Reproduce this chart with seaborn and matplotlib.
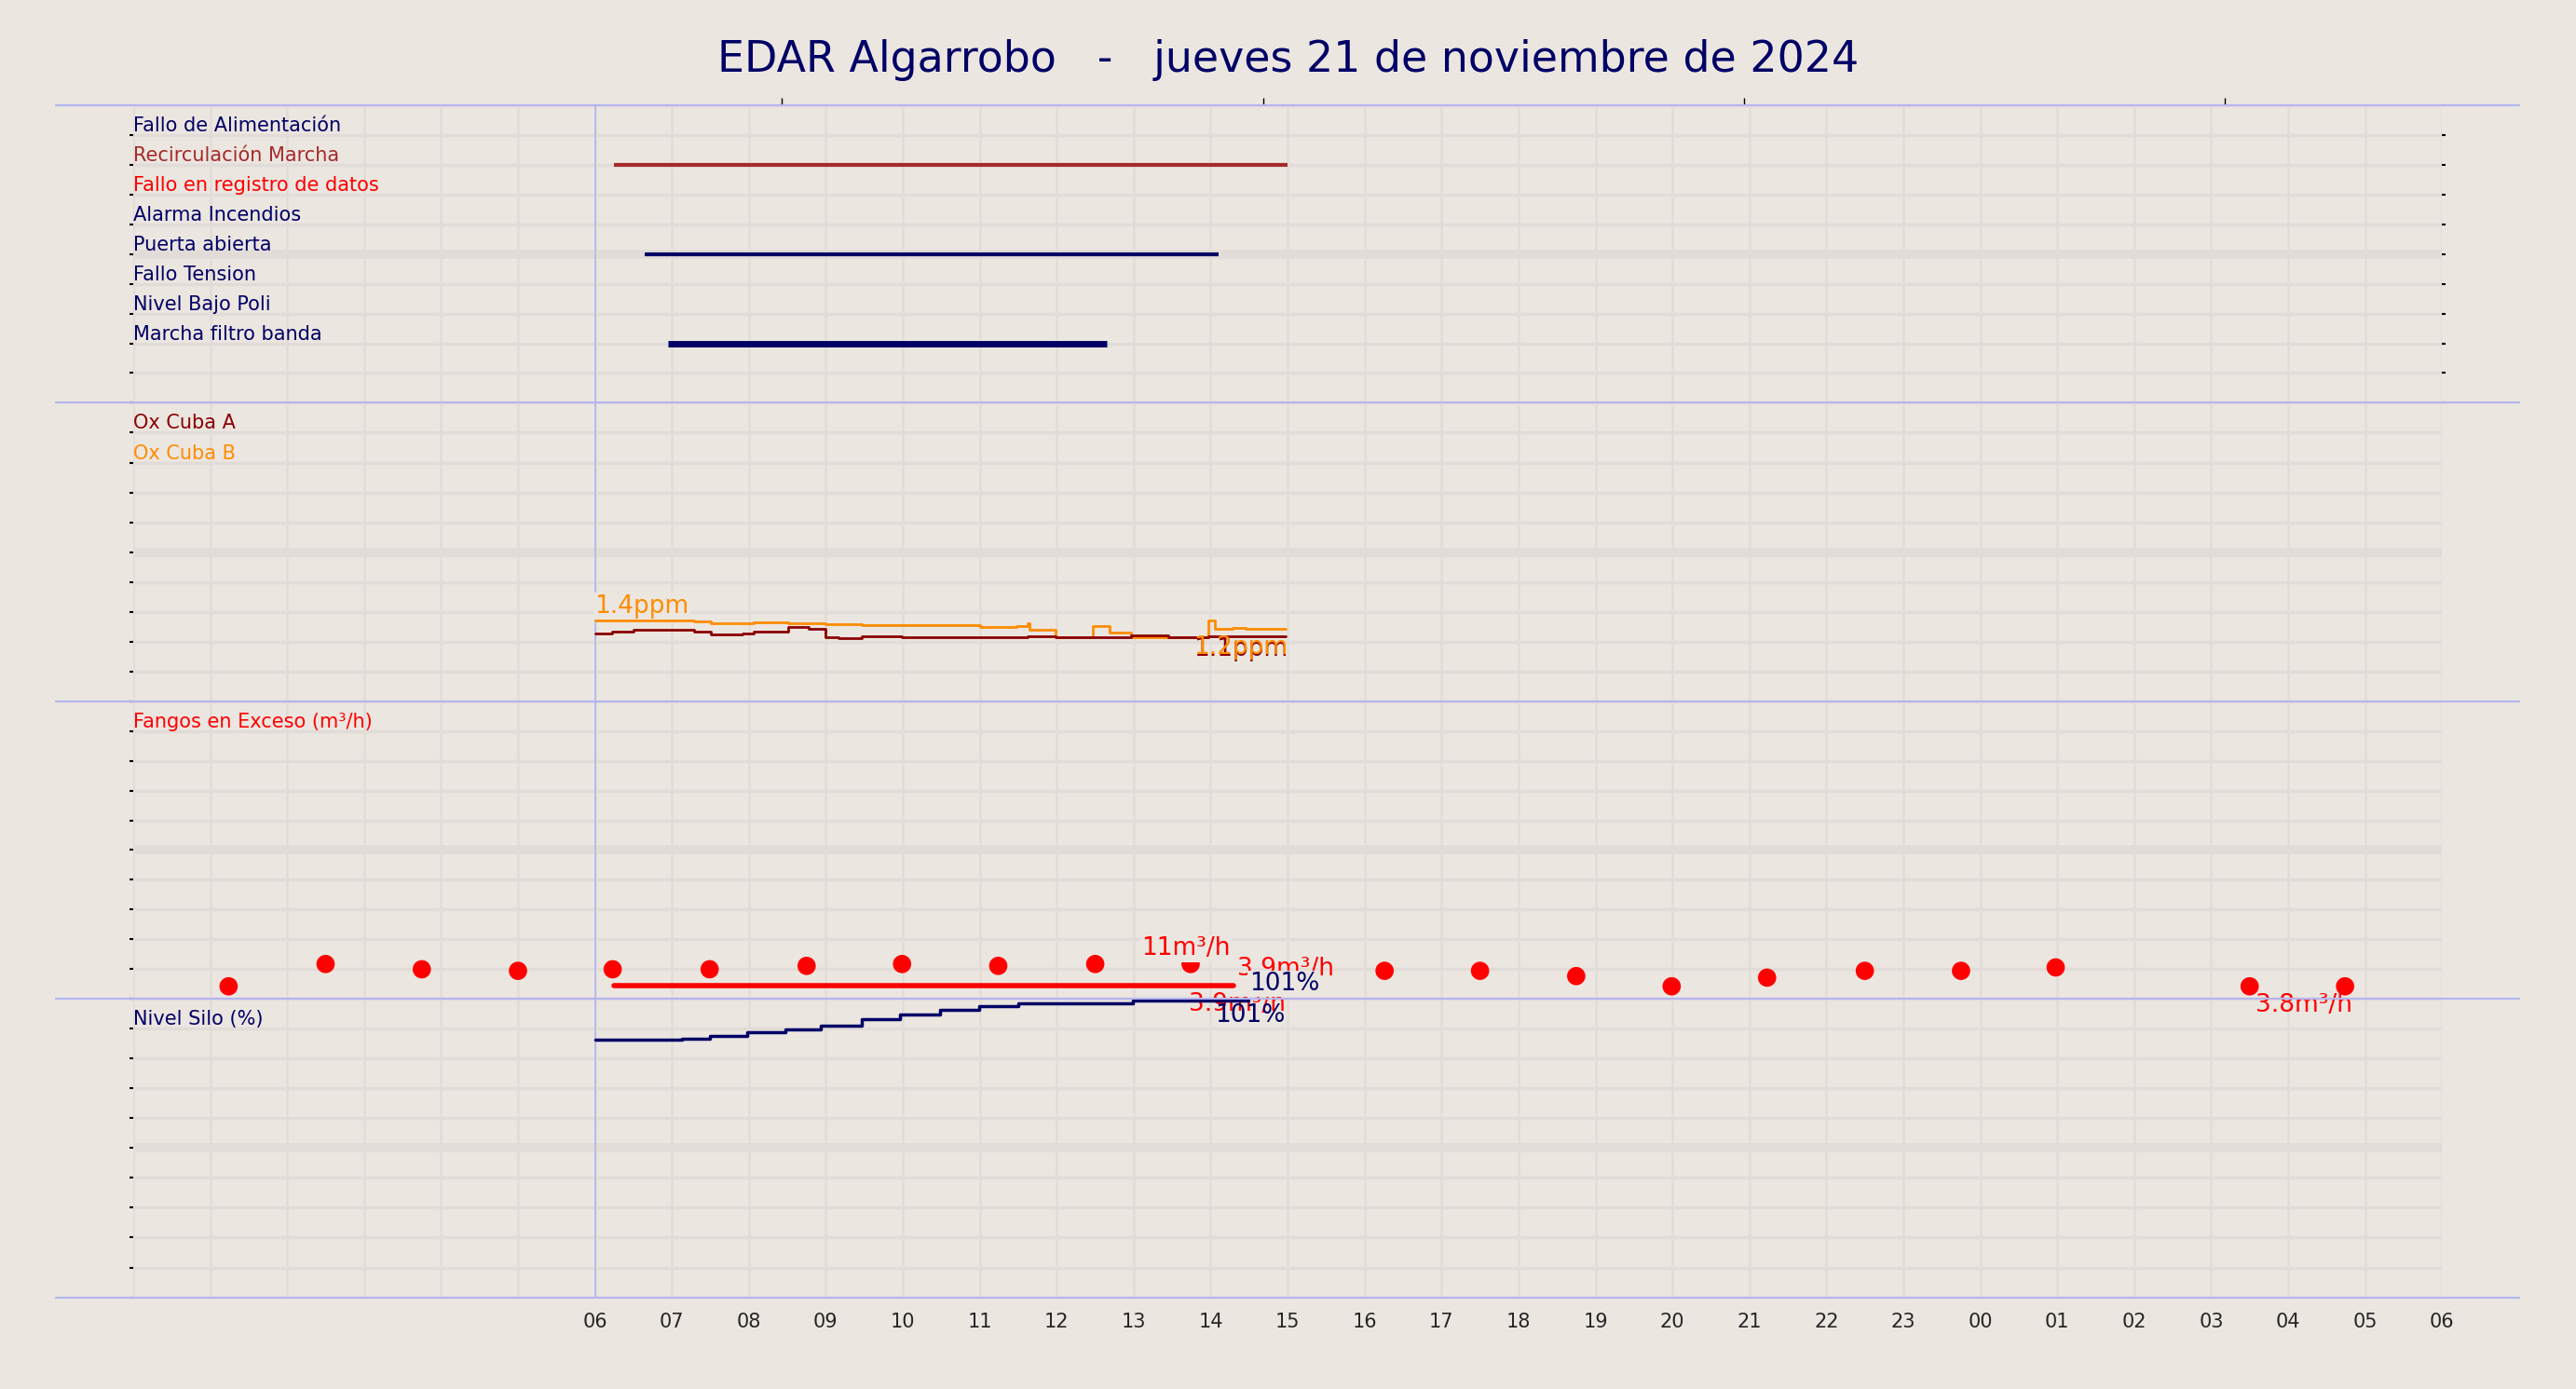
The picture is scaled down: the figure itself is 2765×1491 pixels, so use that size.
import matplotlib
matplotlib.use("Agg")
import matplotlib.pyplot as plt
import seaborn as sns
import pandas as pd
import numpy as np

BG = "#ebe6e0"
GRID = "#e2dcd9"
SEP = "#b4b4f0"
NAVY = "#000066"

title = "EDAR Algarrobo   -   jueves 21 de noviembre de 2024"

# ---- panel 1: digital signals
signal_names = ["Fallo de Alimentación", "Recirculación Marcha", "Fallo en registro de datos",
                "Alarma Incendios", "Puerta abierta", "Fallo Tension", "Nivel Bajo Poli",
                "Marcha filtro banda"]
signal_colors = [NAVY, "#a52a2a", "#ff0000", NAVY, NAVY, NAVY, NAVY, NAVY]
signal_start = [None, 6.25, None, None, 6.65, None, None, 6.95]
signal_end = [None, 15.0, None, None, 14.1, None, None, 12.65]
signal_width = [0, 3, 0, 0, 3, 0, 0, 5]

# ---- panel 2: oxygen (ppm)
oxB_t = [6.0, 7.29, 7.50, 8.06, 8.51, 8.99, 9.47, 9.99, 10.48, 11.0, 11.48, 11.62, 11.65,
         11.99, 12.47, 12.69, 12.97, 13.97, 14.06, 14.28, 14.46, 14.98]
oxB_v = [1.42, 1.40, 1.35, 1.37, 1.34, 1.32, 1.30, 1.31, 1.30, 1.25, 1.27, 1.35, 1.18,
         0.99, 1.27, 1.10, 0.97, 1.43, 1.20, 1.24, 1.20, 1.20]
oxA_t = [6.0, 6.22, 6.50, 7.16, 7.29, 7.50, 7.92, 8.06, 8.51, 8.78, 8.99, 9.16, 9.47, 9.99,
         10.48, 11.62, 11.99, 12.47, 12.97, 13.45, 13.97, 14.46, 14.98]
oxA_v = [1.08, 1.12, 1.17, 1.18, 1.14, 1.05, 1.08, 1.12, 1.25, 1.21, 0.98, 0.95, 1.0, 0.97,
         0.98, 1.0, 0.97, 0.98, 1.03, 0.97, 1.00, 1.01, 1.01]

# ---- panel 3: excess sludge (m3/h)
fango_t = [1.24, 2.5, 3.75, 5.0, 6.23, 7.49, 8.75, 9.99, 11.24, 12.5, 13.74, 16.26, 17.5,
           18.75, 19.99, 21.23, 22.5, 23.75, 24.98, 27.5, 28.74]
fango_v = [3.8, 11, 9.3, 8.8, 9.3, 9.3, 10.4, 11, 10.4, 11, 11, 8.8, 8.8, 7.1, 3.8, 6.6,
           8.8, 8.8, 9.9, 3.8, 3.8]
fango_avg_t = [6.25, 14.3]
fango_avg_v = [3.9, 3.9]

# ---- panel 4: silo level (%)
silo_t = [6.0, 7.13, 7.49, 7.98, 8.47, 8.94, 9.47, 9.96, 10.48, 10.99, 11.5, 12.99, 14.49]
silo_v = [87.5, 88.0, 89.0, 90.2, 91.2, 92.3, 94.4, 96.0, 97.6, 99.0, 99.8, 101, 101]

hour_ticks = list(range(6, 31))
hour_labels = [f"{h % 24:02d}" for h in hour_ticks]

sns.set_theme(style="white", rc={"axes.facecolor": BG, "figure.facecolor": BG})
fig = plt.figure(figsize=(27.65, 14.91), dpi=100)
fig.patch.set_facecolor(BG)

L, R = 0.0517, 0.948
bounds = [0.924, 0.710, 0.495, 0.281, 0.066]
axes = []
for i in range(4):
    ax = fig.add_axes([L, bounds[i + 1], R - L, bounds[i] - bounds[i + 1]])
    ax.set_xlim(0, 30)
    ax.set_ylim(10, 0)
    ax.set_yticks(range(0, 11))
    ax.set_xticks(range(0, 31))
    for y in range(0, 11):
        ax.axhline(y, color=GRID, lw=2.5 if y != 5 else 7, zorder=0)
    for x in range(0, 31):
        ax.axvline(x, color=GRID, lw=1.8, zorder=0)
    ax.axvline(6, color=SEP, lw=1.2, zorder=1)
    ax.tick_params(axis="y", left=True, right=True, length=3, width=1.5, color="black",
                   labelleft=False, direction="out")
    ax.tick_params(axis="x", bottom=False, labelbottom=False)
    for s in ax.spines.values():
        s.set_visible(False)
    axes.append(ax)

for y in bounds:
    fig.add_artist(plt.Line2D([0.0217, 0.978], [y, y], color=SEP, lw=1.5, transform=fig.transFigure))

fs = 15
# panel 1
ax = axes[0]
for i, (n, c) in enumerate(zip(signal_names, signal_colors)):
    ax.text(0, i + 1, n, color=c, fontsize=fs, va="bottom", ha="left")
    if signal_start[i] is not None:
        ax.plot([signal_start[i], signal_end[i]], [i + 1, i + 1],
                color=c, lw=signal_width[i], solid_capstyle="butt")
ax.tick_params(axis="x", top=True, length=6, width=1, color="black")
ax.set_xticks([8.43, 14.68, 20.93, 27.18])

# panel 2
ax = axes[1]
ax.text(0, 1, "Ox Cuba A", color="#8b0000", fontsize=fs, va="bottom")
ax.text(0, 2, "Ox Cuba B", color="#ff8c00", fontsize=fs, va="bottom")
tw = ax.twinx()
tw.set_ylim(-0.72, 7.19)
tw.axis("off")
dfB = pd.DataFrame({"t": oxB_t, "v": oxB_v})
dfA = pd.DataFrame({"t": oxA_t, "v": oxA_v})
tw.step(dfB.t, dfB.v, where="post", color="#ff8c00", lw=2)
tw.step(dfA.t, dfA.v, where="post", color="#8b0000", lw=2)
bb = dict(facecolor=BG, edgecolor="none", pad=1)
tw.text(6.0, 1.48, "1.4ppm", color="#ff8c00", fontsize=19, va="bottom", bbox=bb)
tw.text(15.0, 0.97, "1.1ppm", color="#8b0000", fontsize=19, ha="right", va="top")
tw.text(15.0, 1.03, "1.2ppm", color="#ff8c00", fontsize=19, ha="right", va="top")

# panel 3
ax = axes[2]
ax.text(0, 1, "Fangos en Exceso (m³/h)", color="#ff0000", fontsize=fs, va="bottom")
tw = ax.twinx()
tw.set_ylim(-0.2, 95.8)
tw.axis("off")
dfF = pd.DataFrame({"t": fango_t, "v": fango_v})
sns.scatterplot(data=dfF, x="t", y="v", ax=tw, color="#ff0000", s=200, edgecolor="none", zorder=3)
tw.plot(fango_avg_t, fango_avg_v, color="#ff0000", lw=4)
tw.text(13.1, 12, "11m³/h", color="#ff0000", fontsize=19, va="bottom", bbox=bb)
tw.text(14.35, 5.5, "3.9m³/h", color="#ff0000", fontsize=19, va="bottom")
tw.text(13.72, 2.0, "3.9m³/h", color="#ff0000", fontsize=19, ha="left", va="top")
tw.text(28.2, 1.5, "3.8m³/h", color="#ff0000", fontsize=19, ha="center", va="top")
tw.set_xlabel(""); tw.set_ylabel("")

# panel 4
ax = axes[3]
ax.text(0, 1, "Nivel Silo (%)", color=NAVY, fontsize=fs, va="bottom")
tw = ax.twinx()
tw.set_ylim(0, 101.5)
tw.axis("off")
tw.step(silo_t, silo_v, where="post", color=NAVY, lw=2.5)
tw.text(14.06, 100, "101%", color=NAVY, fontsize=19, ha="left", va="top")
tw.text(14.5, 102.5, "101%", color=NAVY, fontsize=19, ha="left", va="bottom", bbox=bb,
        clip_on=False)
ax.set_xticks(hour_ticks)
ax.set_xticklabels(hour_labels, fontsize=15)
ax.tick_params(axis="x", labelbottom=True, bottom=False, pad=6)

fig.suptitle(title, fontsize=33, color=NAVY, y=0.972)
fig.savefig("out.png", dpi=100, facecolor=BG)
